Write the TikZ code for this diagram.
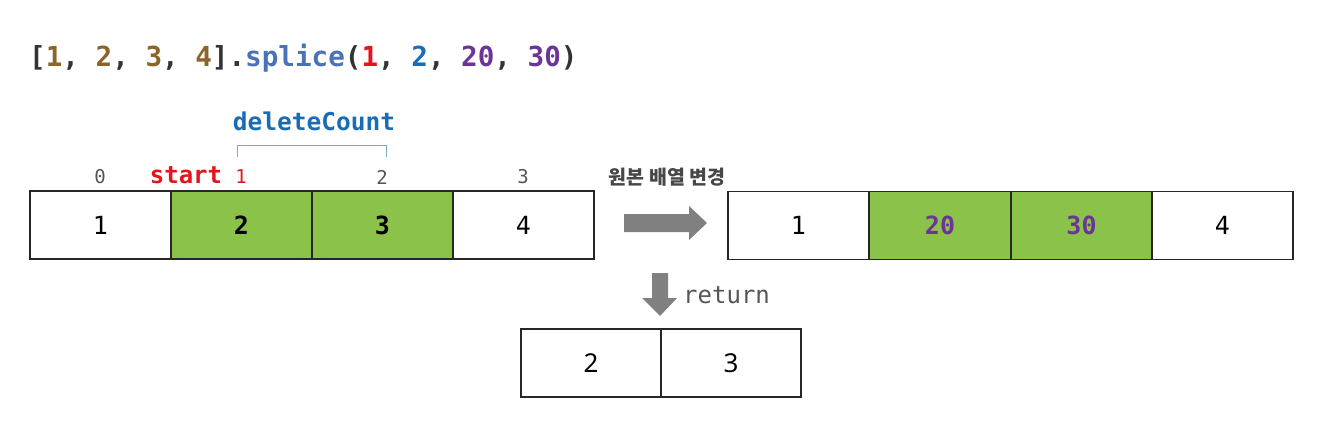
\documentclass[tikz,border=0pt]{standalone}
\usepackage{fontspec}
\newfontfamily\mono{DejaVu Sans Mono}
\newfontfamily\kr{Noto Sans CJK KR}
\newfontfamily\nsans{Noto Sans}
\definecolor{tdark}{RGB}{51,51,51}
\definecolor{tbrown}{RGB}{140,100,40}
\definecolor{tsteel}{RGB}{74,114,184}
\definecolor{tred}{RGB}{229,20,27}
\definecolor{tblue}{RGB}{26,108,181}
\definecolor{tpurple}{RGB}{107,53,151}
\definecolor{cgreen}{RGB}{139,195,74}
\definecolor{agray}{RGB}{128,128,128}
\definecolor{igray}{RGB}{85,85,85}
\definecolor{brk}{RGB}{127,167,207}
\begin{document}
\begin{tikzpicture}[x=1pt,y=-1pt,
  cell/.style={draw=black!85,line width=1.2pt,minimum width=141pt,minimum height=68pt,inner sep=0pt,
    font=\mono\fontsize{25}{25}\selectfont},
  gcell/.style={cell,fill=cgreen,font=\mono\bfseries\fontsize{25}{25}\selectfont},
  bcell/.style={cell,minimum width=140pt,font=\nsans\fontsize{26}{26}\selectfont},
  idx/.style={inner sep=0pt,text=igray,font=\mono\fontsize{19}{19}\selectfont},
  blockarrow/.style={fill=agray}]
\useasboundingbox (0,0) rectangle (1324,420);

% title
\node[anchor=west,inner sep=0pt,text=tdark,font=\mono\bfseries\fontsize{27.6}{28}\selectfont] (title) at (29,58)
 {[\textcolor{tbrown}{1}, \textcolor{tbrown}{2}, \textcolor{tbrown}{3}, \textcolor{tbrown}{4}].\textcolor{tsteel}{splice}(\textcolor{tred}{1}, \textcolor{tblue}{2}, \textcolor{tpurple}{20}, \textcolor{tpurple}{30})};

% deleteCount
\node[inner sep=0pt,text=tblue,font=\mono\bfseries\fontsize{24.5}{25}\selectfont] (dc) at (314,121) {deleteCount};
\draw[draw=brk,line width=1pt] (237,157) -- (237,145) -- (386,145) -- (386,157);

% indices
\node[idx] (i0) at (100,177) {0};
\node[idx,text=tred] (i1) at (241,177) {1};
\node[idx] (i2) at (382,177) {2};
\node[idx] (i3) at (523,177) {3};
\node[inner sep=0pt,text=tred,font=\mono\bfseries\fontsize{24}{24}\selectfont] (start) at (186,175) {start};

% left array
\node[cell] (a1) at (100.5,225) {1};
\node[gcell] (a2) at (241.5,225) {2};
\node[gcell] (a3) at (382.5,225) {3};
\node[cell] (a4) at (523.5,225) {4};

% right arrow and label
\fill[blockarrow] (624,214) -- (689,214) -- (689,206) -- (707,223) -- (689,240) -- (689,232) -- (624,232) -- cycle;
\node[inner sep=0pt,text=tdark!90,font=\kr\bfseries\fontsize{19.5}{20}\selectfont] (chg) at (667,177) {원본 배열 변경};

% right array
\node[cell] (b1) at (798.5,225.5) {1};
\node[cell,fill=cgreen,text=tpurple,font=\mono\bfseries\fontsize{25}{25}\selectfont] (b2) at (940,225.5) {20};
\node[cell,fill=cgreen,text=tpurple,font=\mono\bfseries\fontsize{25}{25}\selectfont] (b3) at (1081.5,225.5) {30};
\node[cell] (b4) at (1222.5,225.5) {4};

% down arrow and label
\fill[blockarrow] (652,273) -- (668,273) -- (668,298) -- (677,298) -- (660,316) -- (642,298) -- (652,298) -- cycle;
\node[anchor=west,inner sep=0pt,text=igray,font=\mono\fontsize{24}{24}\selectfont] (ret) at (683,295) {return};

% returned array
\node[bcell] (c1) at (591,363) {2};
\node[bcell] (c2) at (731,363) {3};
\end{tikzpicture}
\end{document}
